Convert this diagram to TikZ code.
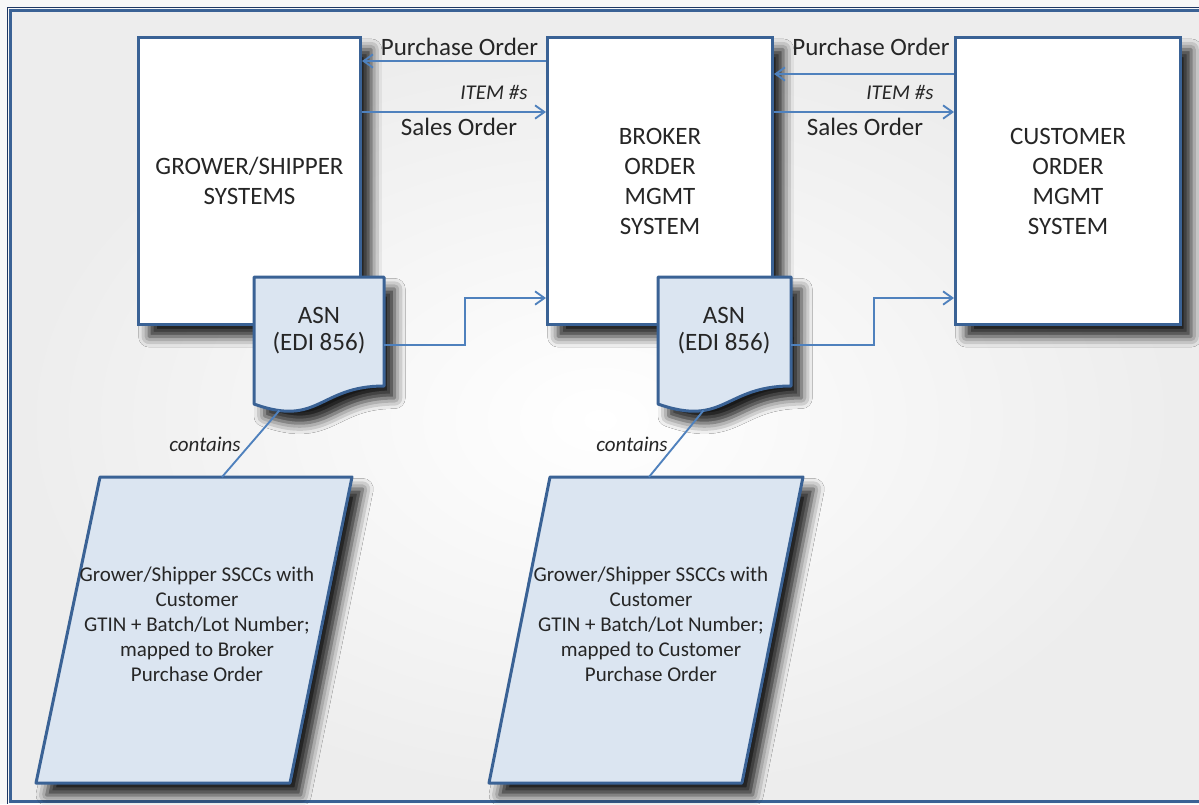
\documentclass[tikz,border=0pt]{standalone}
\usepackage{fontspec}
\setmainfont{Carlito}
\usetikzlibrary{arrows.meta,shadows.blur,calc}
\definecolor{bordblue}{HTML}{3A6295}
\definecolor{linkblue}{HTML}{4F81BD}
\definecolor{docfill}{HTML}{DBE5F1}
\definecolor{framedark}{HTML}{1F3864}
\definecolor{bgin}{HTML}{EDEDED}
\definecolor{bgout}{HTML}{F7F7F7}
\newcommand\fbig{\fontsize{18.75}{22.5}\selectfont}
\newcommand\fasn{\fontsize{18.75}{20.25}\selectfont}
\newcommand\fsmall{\fontsize{15.75}{18.75}\selectfont}
\tikzset{
  shad/.style={blur shadow={shadow xshift=8pt, shadow yshift=-9pt, shadow blur radius=8pt, shadow opacity=90}},
  sysbox/.style={draw=bordblue, line width=2.25pt, fill=white, minimum height=215.25pt, align=center, font=\fbig, text=black!85, shad},
  shapeline/.style={draw=bordblue, line width=2.25pt, fill=docfill, line join=round, shad},
  link/.style={draw=linkblue, line width=1.4pt},
  arr/.style={link, -{Straight Barb[length=7pt,width=10pt,line width=1.4pt]}},
  lbl/.style={font=\fbig, text=black!85, inner sep=0pt},
  ilbl/.style={font=\fsmall\itshape, text=black!85, inner sep=0pt},
  ptext/.style={font=\fsmall, text=black!85, align=center, inner sep=0pt},
  anchorbox/.style={inner sep=0pt, outer sep=0pt, anchor=north west}
}
\begin{document}
\begin{tikzpicture}[x=0.75pt,y=-0.75pt]
\useasboundingbox (0,0) rectangle (1199,804);
% background and frame
\fill[bgout] (0,0) rectangle (1199,804);
\fill[bgin] (11,11) rectangle (1215,801);
\shade[inner color=white, outer color=bgin] (600,420) ellipse (580 and 380);
\draw[framedark, line width=0.9pt] (1215,7.5) -- (7.5,7.5) -- (7.5,804);
\draw[bordblue, line width=2.4pt] (1215,10.5) -- (10.5,10.5) -- (10.5,801.5) -- (1215,801.5);

% system boxes
\node[sysbox, minimum width=166.5pt] (grower) at (249.5,181) {GROWER/SHIPPER\\SYSTEMS};
\node[sysbox, minimum width=168.75pt] (broker) at (660,181) {BROKER\\ORDER\\MGMT\\SYSTEM};
\node[sysbox, minimum width=168.75pt] (customer) at (1068,181) {CUSTOMER\\ORDER\\MGMT\\SYSTEM};

% helper coordinates for heights
\coordinate (y61) at (0,61);
\coordinate (y74) at (0,74);
\coordinate (y112) at (0,112);
\coordinate (y298) at (0,298);

% ASN documents
\node[anchorbox, minimum width=97.5pt, minimum height=102pt] (asn1) at (254,277) {};
\path[shapeline] (asn1.north west) -- (asn1.north east) -- ($(asn1.north east)+(0,109)$)
  .. controls ($(asn1.north)+(0,109)$) and ($(asn1.north)+(0,150.5)$) .. ($(asn1.north west)+(0,127)$)
  coordinate[pos=0.85] (asn1b) -- cycle;
\node[font=\fasn, text=black!85, align=center] (asn1t) at (319,331) {ASN\\(EDI 856)};

\node[anchorbox, minimum width=99.75pt, minimum height=102pt] (asn2) at (658,277) {};
\path[shapeline] (asn2.north west) -- (asn2.north east) -- ($(asn2.north east)+(0,109)$)
  .. controls ($(asn2.north)+(0,109)$) and ($(asn2.north)+(0,150.5)$) .. ($(asn2.north west)+(0,127)$)
  coordinate[pos=0.7] (asn2b) -- cycle;
\node[font=\fasn, text=black!85, align=center] (asn2t) at (724,331) {ASN\\(EDI 856)};

% parallelograms
\coordinate (p1tl) at (100,477);
\coordinate (p1tr) at (352,477);
\coordinate (p1br) at (290,783);
\coordinate (p1bl) at (36,783);
\coordinate (p1top) at (222,477);
\path[shapeline] (p1tl) -- (p1tr) -- (p1br) -- (p1bl) -- cycle;
\node[ptext] (p1) at (197,624) {Grower/Shipper SSCCs with\\Customer\\GTIN + Batch/Lot Number;\\mapped to Broker\\Purchase Order};

\coordinate (p2tl) at (550,477);
\coordinate (p2tr) at (803,477);
\coordinate (p2br) at (742,783);
\coordinate (p2bl) at (489,783);
\coordinate (p2top) at (649,477);
\path[shapeline] (p2tl) -- (p2tr) -- (p2br) -- (p2bl) -- cycle;
\node[ptext] (p2) at (651,624) {Grower/Shipper SSCCs with\\Customer\\GTIN + Batch/Lot Number;\\mapped to Customer\\Purchase Order};

% order arrows
\draw[arr] (broker.west |- y61) -- (grower.east |- y61);
\draw[arr] (grower.east |- y112) -- (broker.west |- y112);
\draw[arr] (customer.west |- y74) -- (broker.east |- y74);
\draw[arr] (broker.east |- y112) -- (customer.west |- y112);

\node[lbl] (po1) at (459.5,47) {Purchase Order};
\node[ilbl] (it1) at (494,92) {ITEM \#s};
\node[lbl] (so1) at (459,127) {Sales Order};
\node[lbl] (po2) at (871,47) {Purchase Order};
\node[ilbl] (it2) at (900,92) {ITEM \#s};
\node[lbl] (so2) at (865,127) {Sales Order};

% ASN connectors
\draw[arr] (asn1.east) -- (465,345) |- (broker.west |- y298);
\draw[arr] (asn2.east) -- (874,345) |- (customer.west |- y298);

% contains links
\draw[link] (asn1b) -- (p1top);
\draw[link] (asn2b) -- (p2top);
\node[ilbl] (c1) at (205,444) {contains};
\node[ilbl] (c2) at (632,444) {contains};
\end{tikzpicture}
\end{document}
